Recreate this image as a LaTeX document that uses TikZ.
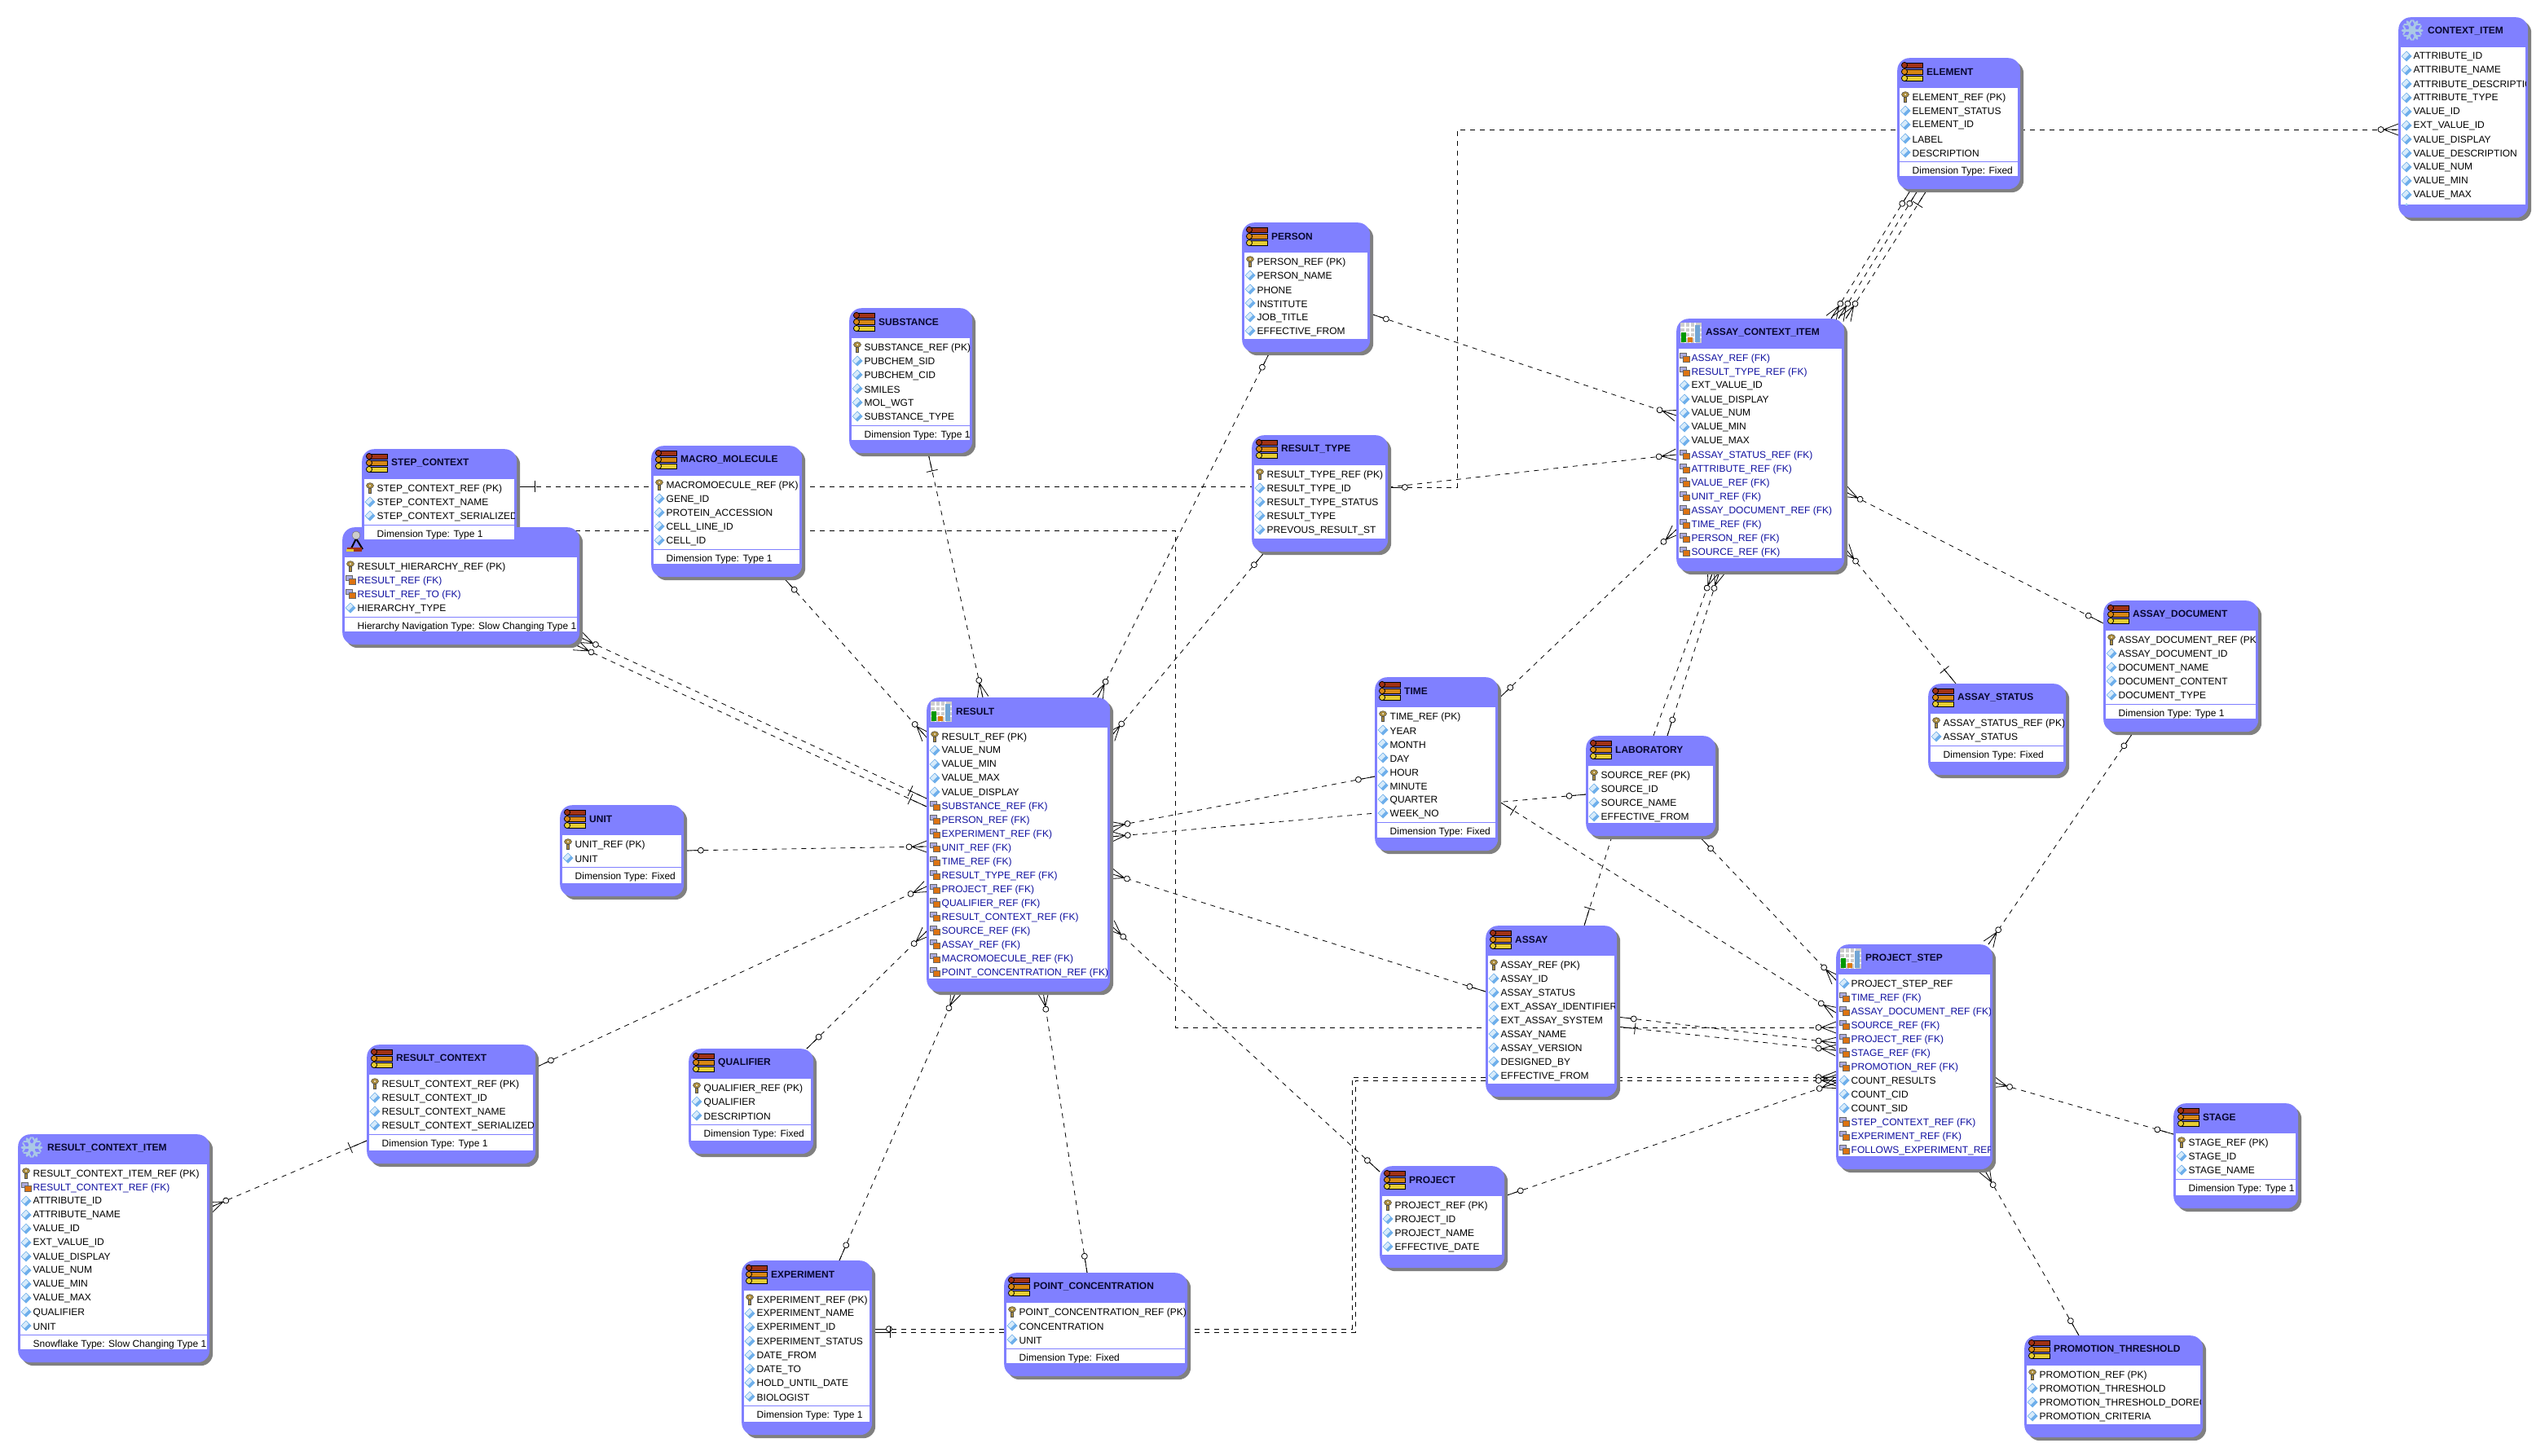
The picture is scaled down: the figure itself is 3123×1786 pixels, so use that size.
\documentclass[tikz,border=0pt]{standalone}
\usepackage{fontspec}
\setmainfont{Liberation Sans}
\usepackage{tikz}
\usetikzlibrary{backgrounds,decorations.markings,shadows}
\definecolor{erblue}{RGB}{128,128,255}
\definecolor{ershadow}{RGB}{128,128,128}
\definecolor{fkblue}{RGB}{16,16,160}
\definecolor{titleink}{RGB}{8,8,48}
\definecolor{iconred}{RGB}{160,50,20}
\definecolor{iconorange}{RGB}{215,135,20}
\definecolor{iconyellow}{RGB}{230,205,50}
\definecolor{keygold}{RGB}{170,140,60}
\definecolor{diamondblue}{RGB}{110,175,235}
\definecolor{diamondpale}{RGB}{215,235,250}
\definecolor{gridgray}{RGB}{205,205,205}
\definecolor{flakeblue}{RGB}{170,200,230}
\catcode`\_=12
\newcommand{\manyfoot}{\draw[solid] (0,-7)--(-18,0)--(0,7) (0,0)--(-18,0);
  \draw[solid,fill=white] (-21.5,0) circle (3.5pt);}
\newcommand{\optfoot}{\draw[solid] (0,0)--(-17,0);
  \draw[solid,fill=white] (-20.5,0) circle (3.5pt);}
\newcommand{\teefoot}{\draw[solid] (0,0)--(-22,0) (-22,-7)--(-22,7);}
\tikzset{
  every node/.style={font=\fontsize{12}{14}\selectfont,inner sep=0pt},
  tablebox/.style={anchor=north west,fill=erblue,rounded corners=15pt,
    drop shadow={shadow xshift=4pt,shadow yshift=-4pt,fill=ershadow,opacity=1}},
  tabletitle/.style={anchor=west,text=titleink,font=\fontsize{12}{14}\selectfont\bfseries},
  rowtext/.style={anchor=west},
  rowp/.style={text=black}, rowd/.style={text=black}, rowf/.style={text=fkblue},
  sepline/.style={erblue,line width=1pt},
  rel/.style={line width=.8pt,dash pattern=on 6pt off 6pt},
  endfoot/.style={postaction={decorate,decoration={markings,mark=at position 1 with {#1}}}},
  startfoot/.style={postaction={decorate,decoration={markings,
    mark=at position 0 with {\begin{scope}[xscale=-1]#1\end{scope}}}}},
  manyend/.style={endfoot=\manyfoot}, manystart/.style={startfoot=\manyfoot},
  optend/.style={endfoot=\optfoot}, optstart/.style={startfoot=\optfoot},
  teeend/.style={endfoot=\teefoot}, teestart/.style={startfoot=\teefoot},
  % row icons
  rowiconp/.pic={
    \draw[fill=keygold,draw=black!70,line width=.5pt] (0,-3) ellipse (4.5pt and 3.4pt);
    \draw[fill=keygold,draw=black!70,line width=.5pt] (-1.5,0) rectangle (1.5,6);
    \fill[white] (0,-3) circle (1pt);},
  rowicond/.pic={
    \fill[diamondblue] (0,-6.5)--(6.5,0)--(0,6.5)--(-6.5,0)--cycle;
    \fill[diamondpale] (0,-5.5)--(3,-2)--(-2,3)--(-5.5,0)--cycle;},
  rowiconf/.pic={
    \draw[fill=fkblue!35,draw=black!60,line width=.5pt] (-6,-6) rectangle (2,0);
    \draw[fill=iconorange!85!red,draw=black!60,line width=.5pt] (-2,-1.5) rectangle (6,5);},
  % header icons
  headdim/.pic={
    \foreach \c/\yy in {iconred/9,iconorange/17,iconyellow/25}{
      \draw[fill=\c,line width=.8pt] (10,\yy-3) rectangle (31,\yy+3);
      \draw[fill=\c,line width=.8pt] (9,\yy) circle (3.6pt);}},
  headfact/.pic={
    \fill[gridgray] (5,5) rectangle (31,30);
    \foreach \a in {11,17,23}{\draw[white,line width=1.2pt] (\a,5)--(\a,30);}
    \foreach \a in {11,17,23}{\draw[white,line width=1.2pt] (5,\a)--(31,\a);}
    \fill[green!60!black] (6,17) rectangle (12,29);
    \fill[iconorange!90!red] (14,23) rectangle (20,29);
    \fill[diamondblue!80!gray] (23,8) rectangle (29,29);},
  headflake/.pic={
    \begin{scope}[shift={(17,16)}]
      \fill[flakeblue] (0,0) circle (5pt);
      \foreach \a in {0,60,...,300}{
        \draw[flakeblue,line width=3pt,line cap=round] (0,0)--(\a:12);
        \draw[flakeblue,line width=2pt,line cap=round] (\a-25:12)--(\a:8)--(\a+25:12);}
    \end{scope}},
  headhier/.pic={
    \draw[black,line width=2pt] (17,14)--(11,26) (17,14)--(25,27);
    \fill[iconred] (6,25) rectangle (24,30);
    \fill[iconyellow] (5,27) rectangle (14,30);
    \draw[fill=gray!40,draw=black!60] (17,10) circle (5pt);},
}
% table frame: name, left, top, width, height, icon, title
\newcommand{\erhead}[7]{%
  \node[tablebox,minimum width=#4pt,minimum height=#5pt] (#1) at (#2,#3) {};
  \pic at (#1.north west) {head#6};
  \node[tabletitle] (#1t) at ([shift={(36,17)}]#1.north west) {#7};
}
% table body: name, rows, footer
\newcommand{\errows}[3]{%
  \fill[white] ([shift={(3,37)}]#1.north west) rectangle ([shift={(-3,-16)}]#1.south east);
  \begin{scope}
    \clip ([shift={(3,37)}]#1.north west) rectangle ([shift={(-3,-16)}]#1.south east);
    \foreach \kind/\txt [count=\i] in {#2}{
      \pgfmathtruncatemacro\rowy{48+17*(\i-1)}
      \pic at ([shift={(10,\rowy)}]#1.north west) {rowicon\kind};
      \node[rowtext,row\kind] (#1r\i) at ([shift={(18.5,\rowy+1)}]#1.north west) {\txt};
      \global\let\lastrow\rowy
    }
    \if\relax\detokenize{#3}\relax\else
      \draw[sepline] ([shift={(3,\lastrow+11)}]#1.north west) -- ([shift={(-3,\lastrow+11)}]#1.north east);
      \node[rowtext] (#1f) at ([shift={(18.5,\lastrow+23)}]#1.north west) {#3};
    \fi
  \end{scope}
}
\begin{document}
\begin{tikzpicture}[x=1pt,y=-1pt]
  \path[use as bounding box] (0,0) rectangle (3123,1786);
  % dimensions
  \erhead{element}{2328}{71}{151}{161}{dim}{ELEMENT}
  \errows{element}{p/ELEMENT_REF (PK),d/ELEMENT_STATUS,d/ELEMENT_ID,d/LABEL,d/DESCRIPTION}{Dimension Type: Fixed}
  \erhead{contextitem}{2943}{21}{159}{246}{flake}{CONTEXT_ITEM}
  \errows{contextitem}{d/ATTRIBUTE_ID,d/ATTRIBUTE_NAME,d/ATTRIBUTE_DESCRIPTIO,d/ATTRIBUTE_TYPE,d/VALUE_ID,d/EXT_VALUE_ID,d/VALUE_DISPLAY,d/VALUE_DESCRIPTION,d/VALUE_NUM,d/VALUE_MIN,d/VALUE_MAX,d/}{}
  \erhead{person}{1524}{273}{157}{159}{dim}{PERSON}
  \errows{person}{p/PERSON_REF (PK),d/PERSON_NAME,d/PHONE,d/INSTITUTE,d/JOB_TITLE,d/EFFECTIVE_FROM}{}
  \erhead{substance}{1042}{378}{151}{178}{dim}{SUBSTANCE}
  \errows{substance}{p/SUBSTANCE_REF (PK),d/PUBCHEM_SID,d/PUBCHEM_CID,d/SMILES,d/MOL_WGT,d/SUBSTANCE_TYPE}{Dimension Type: Type 1}
  \erhead{resulttype}{1536}{534}{167}{143}{dim}{RESULT_TYPE}
  \errows{resulttype}{p/RESULT_TYPE_REF (PK),d/RESULT_TYPE_ID,d/RESULT_TYPE_STATUS,d/RESULT_TYPE,d/PREVOUS_RESULT_ST}{}
  \erhead{macromolecule}{799}{547}{185}{161}{dim}{MACRO_MOLECULE}
  \errows{macromolecule}{p/MACROMOECULE_REF (PK),d/GENE_ID,d/PROTEIN_ACCESSION,d/CELL_LINE_ID,d/CELL_ID}{Dimension Type: Type 1}
  % these two overlap: the rows of the upper one stay on top
  \erhead{stepcontext}{444}{551}{190}{127}{dim}{STEP_CONTEXT}
  \erhead{hierarchy}{420}{647}{291}{144}{hier}{}
  \errows{hierarchy}{p/RESULT_HIERARCHY_REF (PK),f/RESULT_REF (FK),f/RESULT_REF_TO (FK),d/HIERARCHY_TYPE}{Hierarchy Navigation Type: Slow Changing Type 1}
  \errows{stepcontext}{p/STEP_CONTEXT_REF (PK),d/STEP_CONTEXT_NAME,d/STEP_CONTEXT_SERIALIZED}{Dimension Type: Type 1}
  \erhead{time}{1687}{831}{151}{213}{dim}{TIME}
  \errows{time}{p/TIME_REF (PK),d/YEAR,d/MONTH,d/DAY,d/HOUR,d/MINUTE,d/QUARTER,d/WEEK_NO}{Dimension Type: Fixed}
  \erhead{laboratory}{1946}{903}{159}{123}{dim}{LABORATORY}
  \errows{laboratory}{p/SOURCE_REF (PK),d/SOURCE_ID,d/SOURCE_NAME,d/EFFECTIVE_FROM}{}
  \erhead{assaydocument}{2581}{737}{190}{161}{dim}{ASSAY_DOCUMENT}
  \errows{assaydocument}{p/ASSAY_DOCUMENT_REF (PK),d/ASSAY_DOCUMENT_ID,d/DOCUMENT_NAME,d/DOCUMENT_CONTENT,d/DOCUMENT_TYPE}{Dimension Type: Type 1}
  \erhead{assaystatus}{2366}{839}{169}{112}{dim}{ASSAY_STATUS}
  \errows{assaystatus}{p/ASSAY_STATUS_REF (PK),d/ASSAY_STATUS}{Dimension Type: Fixed}
  \erhead{unit}{687}{988}{152}{112}{dim}{UNIT}
  \errows{unit}{p/UNIT_REF (PK),d/UNIT}{Dimension Type: Fixed}
  \erhead{resultcontext}{450}{1282}{207}{146}{dim}{RESULT_CONTEXT}
  \errows{resultcontext}{p/RESULT_CONTEXT_REF (PK),d/RESULT_CONTEXT_ID,d/RESULT_CONTEXT_NAME,d/RESULT_CONTEXT_SERIALIZED}{Dimension Type: Type 1}
  \erhead{resultcontextitem}{22}{1392}{235}{280}{flake}{RESULT_CONTEXT_ITEM}
  \errows{resultcontextitem}{p/RESULT_CONTEXT_ITEM_REF (PK),f/RESULT_CONTEXT_REF (FK),d/ATTRIBUTE_ID,d/ATTRIBUTE_NAME,d/VALUE_ID,d/EXT_VALUE_ID,d/VALUE_DISPLAY,d/VALUE_NUM,d/VALUE_MIN,d/VALUE_MAX,d/QUALIFIER,d/UNIT}{Snowflake Type: Slow Changing Type 1}
  \erhead{qualifier}{845}{1287}{153}{129}{dim}{QUALIFIER}
  \errows{qualifier}{p/QUALIFIER_REF (PK),d/QUALIFIER,d/DESCRIPTION}{Dimension Type: Fixed}
  \erhead{experiment}{910}{1547}{160}{214}{dim}{EXPERIMENT}
  \errows{experiment}{p/EXPERIMENT_REF (PK),d/EXPERIMENT_NAME,d/EXPERIMENT_ID,d/EXPERIMENT_STATUS,d/DATE_FROM,d/DATE_TO,d/HOLD_UNTIL_DATE,d/BIOLOGIST}{Dimension Type: Type 1}
  \erhead{pointconc}{1232}{1562}{225}{127}{dim}{POINT_CONCENTRATION}
  \errows{pointconc}{p/POINT_CONCENTRATION_REF (PK),d/CONCENTRATION,d/UNIT}{Dimension Type: Fixed}
  \erhead{project}{1693}{1431}{153}{125}{dim}{PROJECT}
  \errows{project}{p/PROJECT_REF (PK),d/PROJECT_ID,d/PROJECT_NAME,d/EFFECTIVE_DATE}{}
  \erhead{assay}{1823}{1136}{161}{210}{dim}{ASSAY}
  \errows{assay}{p/ASSAY_REF (PK),d/ASSAY_ID,d/ASSAY_STATUS,d/EXT_ASSAY_IDENTIFIER,d/EXT_ASSAY_SYSTEM,d/ASSAY_NAME,d/ASSAY_VERSION,d/DESIGNED_BY,d/EFFECTIVE_FROM}{}
  \erhead{stage}{2667}{1354}{153}{129}{dim}{STAGE}
  \errows{stage}{p/STAGE_REF (PK),d/STAGE_ID,d/STAGE_NAME}{Dimension Type: Type 1}
  \erhead{promotion}{2484}{1639}{219}{125}{dim}{PROMOTION_THRESHOLD}
  \errows{promotion}{p/PROMOTION_REF (PK),d/PROMOTION_THRESHOLD,d/PROMOTION_THRESHOLD_DOREC,d/PROMOTION_CRITERIA}{}
  % facts
  \erhead{aci}{2057}{391}{206}{310}{fact}{ASSAY_CONTEXT_ITEM}
  \errows{aci}{f/ASSAY_REF (FK),f/RESULT_TYPE_REF (FK),d/EXT_VALUE_ID,d/VALUE_DISPLAY,d/VALUE_NUM,d/VALUE_MIN,d/VALUE_MAX,f/ASSAY_STATUS_REF (FK),f/ATTRIBUTE_REF (FK),f/VALUE_REF (FK),f/UNIT_REF (FK),f/ASSAY_DOCUMENT_REF (FK),f/TIME_REF (FK),f/PERSON_REF (FK),f/SOURCE_REF (FK)}{}
  \erhead{result}{1137}{856}{225}{361}{fact}{RESULT}
  \errows{result}{p/RESULT_REF (PK),d/VALUE_NUM,d/VALUE_MIN,d/VALUE_MAX,d/VALUE_DISPLAY,f/SUBSTANCE_REF (FK),f/PERSON_REF (FK),f/EXPERIMENT_REF (FK),f/UNIT_REF (FK),f/TIME_REF (FK),f/RESULT_TYPE_REF (FK),f/PROJECT_REF (FK),f/QUALIFIER_REF (FK),f/RESULT_CONTEXT_REF (FK),f/SOURCE_REF (FK),f/ASSAY_REF (FK),f/MACROMOECULE_REF (FK),f/POINT_CONCENTRATION_REF (FK)}{}
  \erhead{projectstep}{2253}{1159}{192}{276}{fact}{PROJECT_STEP}
  \errows{projectstep}{d/PROJECT_STEP_REF,f/TIME_REF (FK),f/ASSAY_DOCUMENT_REF (FK),f/SOURCE_REF (FK),f/PROJECT_REF (FK),f/STAGE_REF (FK),f/PROMOTION_REF (FK),d/COUNT_RESULTS,d/COUNT_CID,d/COUNT_SID,f/STEP_CONTEXT_REF (FK),f/EXPERIMENT_REF (FK),f/FOLLOWS_EXPERIMENT_REF}{}
  % connectors run under the tables
  \begin{pgfonlayer}{background}
    \fill[white] (0,0) rectangle (3123,1786);
    \draw[rel,manyend] (element.east |- 0,159) -- (contextitem.west |- 0,159);
    \draw[rel,optstart] (resulttype.east |- 0,598) -- (1788,598) -- (1788,159) -- (element.west |- 0,159);
    \draw[rel,manyend] (resulttype.east |- 0,598) -- (aci.west |- 0,558);
    \draw[rel,optstart,manyend] (person.east |- 0,385) -- (aci.west |- 0,510);
    \draw[rel,optstart,manyend] (time.east |- 0,858) -- (aci.west |- 0,650);
    \draw[rel,optstart,manyend] (person.south -| 1558,0) -- (result.north -| 1347,0);
    \draw[rel,teestart,manyend] (substance.south -| 1139,0) -- (result.north -| 1206,0);
    \draw[rel,optstart,manyend] (resulttype.south -| 1552,0) -- (result.east |- 0,905);
    \draw[rel,optstart,manyend] (macromolecule.south -| 961,0) -- (result.west |- 0,905);
    \draw[rel,teestart] (stepcontext.east |- 0,597) -- (resulttype.west |- 0,597);
    \draw[rel,manyend] (stepcontext.east |- 0,651) -- (1442,651) -- (1442,1261) -- (projectstep.west |- 0,1261);
    \draw[rel,manystart,teeend] (hierarchy.east |- 0,782) -- (result.west |- 0,980);
    \draw[rel,manystart,teeend] (hierarchy.south -| 706,0) -- (result.west |- 0,990);
    \draw[rel,optstart,manyend] (unit.east |- 0,1044) -- (result.west |- 0,1039);
    \draw[rel,optstart,manyend] (resultcontext.east |- 0,1310) -- (result.west |- 0,1088);
    \draw[rel,manystart,teeend] (resultcontextitem.east |- 0,1482) -- (resultcontext.west |- 0,1400);
    \draw[rel,optstart,manyend] (qualifier.north -| 990,0) -- (result.west |- 0,1143);
    \draw[rel,optstart,manyend] (experiment.north -| 1030,0) -- (result.south -| 1173,0);
    \draw[rel,optstart,manyend] (pointconc.north -| 1334,0) -- (result.south -| 1280,0);
    \draw[rel,optstart,manyend] (project.west |- 0,1438) -- (result.east |- 0,1135);
    \draw[rel,optstart,manyend] (time.west |- 0,953) -- (result.east |- 0,1015);
    \draw[rel,optstart,manyend] (laboratory.west |- 0,975) -- (result.east |- 0,1027);
    \draw[rel,optstart,manyend] (assay.west |- 0,1217) -- (result.east |- 0,1072);
    \draw[rel,manystart,optend] (aci.east |- 0,603) -- (assaydocument.west |- 0,765);
    \draw[rel,manystart,teeend] (aci.east |- 0,672) -- (assaystatus.north -| 2400,0);
    \draw[rel,optstart,manyend] (assaydocument.south -| 2618,0) -- (projectstep.north -| 2440,0);
    \draw[rel,teestart,manyend] (time.east |- 0,983) -- (projectstep.west |- 0,1243);
    \draw[rel,optstart,manyend] (laboratory.south -| 2085,0) -- (projectstep.west |- 0,1203);
    \draw[rel,teeend] (laboratory.south -| 1978,0) -- (assay.north -| 1944,0);
    \draw[rel,optstart,manyend] (assay.east |- 0,1248) -- (projectstep.west |- 0,1280);
    \draw[rel,teestart,manyend] (assay.east |- 0,1260) -- (projectstep.west |- 0,1289);
    \draw[rel,optstart,manyend] (experiment.east |- 0,1631) -- (1659,1631) -- (1659,1322) -- (projectstep.west |- 0,1322);
    \draw[rel,teestart,manyend] (experiment.east |- 0,1635) -- (1663,1635) -- (1663,1326) -- (projectstep.west |- 0,1326);
    \draw[rel,optstart,manyend] (project.east |- 0,1468) -- (projectstep.west |- 0,1329);
    \draw[rel,manystart,optend] (projectstep.east |- 0,1328) -- (stage.west |- 0,1392);
    \draw[rel,manystart,optend] (projectstep.south -| 2435,0) -- (promotion.north -| 2551,0);
    % element into assay context item
    \draw[rel,optstart,manyend] (element.south -| 2345,0) -- (aci.north -| 2247,0);
    \draw[rel,optstart,manyend] (element.south -| 2354,0) -- (aci.north -| 2256,0);
    \draw[rel,teestart,manyend] (element.south -| 2365,0) -- (aci.north -| 2265,0);
    % laboratory into assay context item
    \draw[rel,manyend] (laboratory.north -| 2029,0) -- (aci.south -| 2102,0);
    \draw[rel,optstart,manyend] (laboratory.north -| 2046,0) -- (aci.south -| 2110,0);
  \end{pgfonlayer}
\end{tikzpicture}
\end{document}
